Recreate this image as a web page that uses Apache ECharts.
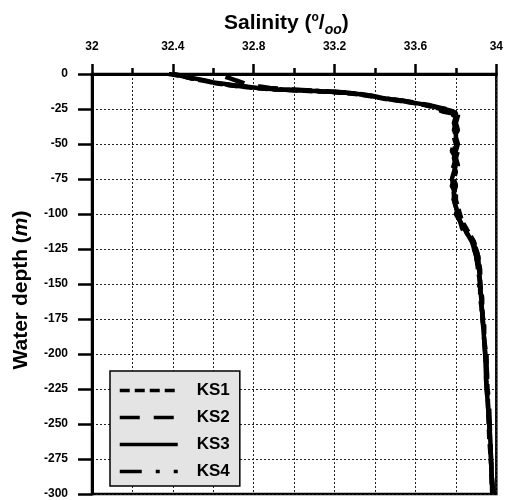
<!DOCTYPE html>
<html><head><meta charset="utf-8">
<script src="https://cdn.jsdelivr.net/npm/echarts@6/dist/echarts.min.js"></script>
<style>html,body{margin:0;padding:0;background:#fff}#c{width:506px;height:500px}</style>
</head><body><div id="c"></div>
<script>
const depth = [0,-1,-2,-3,-4,-5,-6,-7,-8,-9,-10,-11,-12,-13,-14,-15,-16,-17,-18,-19,-20,-21,-22,-23,-24,-25,-26,-27,-28,-30,
  -35,-40,-45,-50,-55,-60,-65,-70,-75,-80,-85,-90,-95,-100,-105,-110,-115,-120,-125,-130,
  -140,-150,-160,-170,-180,-190,-200,-220,-240,-260,-280,-300];
const ks1 = [32.38,32.42,32.46,32.49,32.52,32.56,32.59,32.63,32.68,32.74,32.80,32.90,33.05,33.20,33.28,33.34,33.38,33.42,33.46,33.51,33.56,33.60,33.64,33.67,33.70,33.73,33.76,33.78,33.79,33.80,
  33.80,33.81,33.79,33.80,33.81,33.80,33.79,33.80,33.79,33.78,33.80,33.80,33.81,33.82,33.83,33.85,33.87,33.89,33.90,33.91,
  33.92,33.92,33.93,33.93,33.94,33.94,33.95,33.955,33.96,33.965,33.975,33.98];
const ks2 = [null,null,32.66,32.68,32.70,32.72,32.74,32.76,32.79,32.83,32.88,32.98,33.12,33.24,33.31,33.36,33.40,33.44,33.48,33.53,33.58,33.62,33.66,33.69,33.72,33.75,33.78,33.80,33.81,33.81,
  33.80,33.79,33.81,33.80,33.79,33.80,33.81,33.80,33.79,33.80,33.79,33.80,33.81,33.80,33.82,33.83,33.85,33.88,33.89,33.90,
  33.91,33.92,33.92,33.93,33.935,33.94,33.945,33.95,33.96,33.97,33.975,33.985];
const ks3 = [32.40,32.44,32.47,32.50,32.54,32.57,32.60,32.65,32.70,32.76,32.82,32.92,33.08,33.22,33.30,33.35,33.39,33.43,33.47,33.52,33.57,33.61,33.65,33.68,33.71,33.74,33.77,33.79,33.80,33.80,
  33.79,33.80,33.80,33.81,33.80,33.79,33.80,33.79,33.78,33.79,33.79,33.79,33.80,33.81,33.82,33.84,33.86,33.88,33.90,33.91,
  33.915,33.92,33.925,33.93,33.935,33.94,33.945,33.95,33.96,33.97,33.975,33.98];
const ks4 = [32.40,32.43,32.46,32.49,32.53,32.56,32.59,32.64,32.69,32.75,32.81,32.94,33.10,33.23,33.31,33.36,33.40,33.44,33.48,33.53,33.58,33.62,33.66,33.69,33.72,33.73,33.72,33.74,33.78,33.79,
  33.78,33.80,33.79,33.79,33.78,33.80,33.79,33.78,33.79,33.80,33.78,33.79,33.80,33.81,33.82,33.84,33.86,33.87,33.89,33.90,
  33.91,33.915,33.92,33.93,33.935,33.94,33.95,33.955,33.965,33.97,33.975,33.98];
const seriesNames = ['KS1','KS2','KS3','KS4'];
const seriesValues = [ks1, ks2, ks3, ks4];
const dashTypes = [[10,5],[20,14],'solid',[22,14,4,14]];

const FONT = 'Liberation Sans, Arial, sans-serif';
const pairs = vals => depth.map((d,i)=>[vals[i], d]).filter(p => p[0] !== null);

const chart = echarts.init(document.getElementById('c'), null, {renderer:'canvas'});
chart.setOption({
  backgroundColor: '#fff',
  animation: false,
  title: {
    text: '{a|Salinity (}{sup|o}{a|/}{sub|oo}{a|)}',
    left: 219, top: 4,
    textStyle: {
      rich: {
        a: {fontFamily: FONT, fontWeight: 'bold', fontSize: 21, color: '#000', lineHeight: 28},
        sup: {fontFamily: FONT, fontSize: 12, color: '#000', verticalAlign: 'top', padding: [3,0,0,0]},
        sub: {fontFamily: FONT, fontStyle: 'italic', fontWeight: 'bold', fontSize: 14, color: '#000', verticalAlign: 'bottom'}
      }
    }
  },
  grid: {left: 92, right: 7, top: 74, bottom: 6, show: true, borderColor: '#000', borderWidth: 2.5, backgroundColor: 'transparent'},
  legend: {
    orient: 'vertical', left: 110, top: 371, width: 133,
    padding: [11, 10, 6, 8], itemGap: 10, itemWidth: 58, itemHeight: 14,
    backgroundColor: '#e4e4e4', borderColor: '#000', borderWidth: 1.5,
    data: seriesNames,
    itemStyle: {opacity: 0},
    lineStyle: {width: 3.5},
    textStyle: {fontFamily: FONT, fontWeight: 'bold', fontSize: 17, color: '#000', padding: [0,0,0,14]}
  },
  xAxis: [{
    type: 'value', position: 'top', min: 32, max: 34, interval: 0.4,
    axisLine: {show: true, onZero: false, lineStyle: {color: '#000', width: 3}},
    axisTick: {show: true, length: 10, lineStyle: {color: '#000', width: 2.5}},
    axisLabel: {margin: 21, fontFamily: FONT, fontWeight: 'bold', fontSize: 12, color: '#000',
      formatter: v => String(Number(v.toFixed(1)))},
    splitLine: {show: false}
  }, {
    type: 'value', position: 'top', min: 32, max: 34, interval: 0.2,
    axisLine: {show: false, onZero: false},
    axisTick: {show: true, length: 6, lineStyle: {color: '#000', width: 2.5}},
    axisLabel: {show: false},
    splitLine: {show: true, lineStyle: {color: '#222', width: 1, type: [2,2]}}
  }],
  yAxis: [{
    type: 'value', min: -300, max: 0, interval: 25,
    name: '{a|Water depth (}{i|m}{a|)}', nameLocation: 'middle', nameGap: 60, nameRotate: 90,
    nameTextStyle: {padding: [0,12,0,0], rich: {
      a: {fontFamily: FONT, fontWeight: 'bold', fontSize: 21, color: '#000'},
      i: {fontFamily: FONT, fontWeight: 'bold', fontStyle: 'italic', fontSize: 21, color: '#000'}
    }},
    axisLine: {show: true, onZero: false, lineStyle: {color: '#000', width: 3}},
    axisTick: {show: true, length: 14, lineStyle: {color: '#000', width: 2.5}},
    axisLabel: {margin: 24, fontFamily: FONT, fontWeight: 'bold', fontSize: 12, color: '#000'},
    splitLine: {show: true, lineStyle: {color: '#222', width: 1, type: [2,2]}}
  }],
  series: seriesNames.map((n, k) => ({
    name: n, type: 'line', xAxisIndex: 0, yAxisIndex: 0,
    symbol: 'none', showSymbol: false, smooth: false,
    data: pairs(seriesValues[k]),
    lineStyle: {color: '#000', width: 4.5, type: dashTypes[k]},
    itemStyle: {color: '#000'}
  }))
});
</script></body></html>
